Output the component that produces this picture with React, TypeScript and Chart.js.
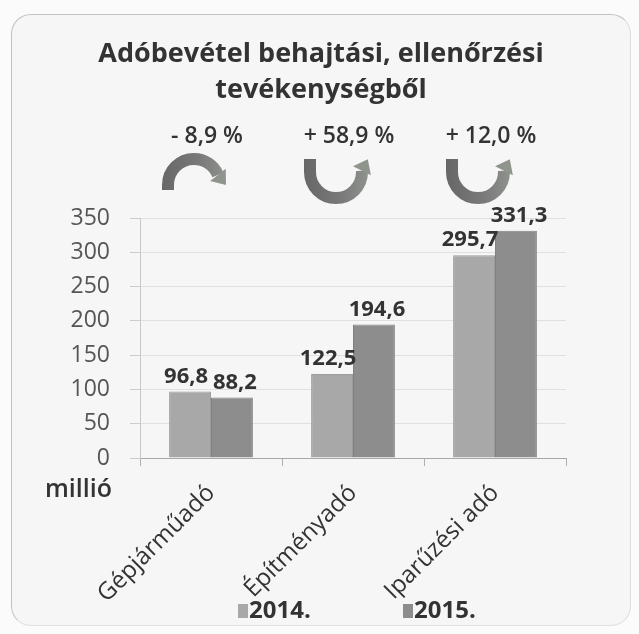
import React, { useEffect, useRef } from "react";
import { Chart, registerables } from "chart.js";

Chart.register(...registerables);

// ---- data ----
const categories = ["Gépjárműadó", "Építményadó", "Iparűzési adó"];
const seriesLabels = ["2014.", "2015."];
const values2014 = [96.8, 122.5, 295.7];
const values2015 = [88.2, 194.6, 331.3];
const yTicks = [0, 50, 100, 150, 200, 250, 300, 350];
const titleLines = ["Adóbevétel behajtási, ellenőrzési", "tevékenységből"];
const unitLabel = "millió";

// ---- style ----
const FONT = "'Open Sans', Lato, sans-serif";
const TEXT = "#333333";
const COLORS = ["#a8a8a8", "#8d8d8d"];

const fmt = (v: number) => v.toFixed(1).replace(".", ",");

function drawArrow(ctx: CanvasRenderingContext2D, cx: number, down: boolean) {
  const r = 26;
  const cy = down ? 185 : 172;
  const end = down ? -0.4 : -0.05;
  const grad = ctx.createLinearGradient(cx - r - 6, 0, cx + r + 12, 0);
  grad.addColorStop(0, "#676767");
  grad.addColorStop(0.55, "#7a7a7a");
  grad.addColorStop(1, "#939891");
  ctx.save();
  ctx.strokeStyle = grad;
  ctx.lineWidth = 12;
  ctx.lineCap = "butt";
  ctx.beginPath();
  if (down) {
    ctx.moveTo(cx - r, cy + 5);
    ctx.arc(cx, cy, r, Math.PI, end, false);
  } else {
    ctx.moveTo(cx - r, cy - 13);
    ctx.arc(cx, cy, r, Math.PI, end, true);
  }
  ctx.stroke();
  // head
  const ex = cx + r * Math.cos(end);
  const ey = cy + r * Math.sin(end);
  const dir = down ? [0.62, 0.78] : [0.45, -0.89];
  const len = 13;
  const half = 10;
  const px = -dir[1], py = dir[0];
  ctx.fillStyle = "#8f948d";
  ctx.beginPath();
  ctx.moveTo(ex + dir[0] * len, ey + dir[1] * len);
  ctx.lineTo(ex + px * half, ey + py * half);
  ctx.lineTo(ex - px * half, ey - py * half);
  ctx.closePath();
  ctx.fill();
  ctx.restore();
}

const overlay = {
  id: "overlay",
  afterDatasetsDraw(chart: any) {
    const { ctx, scales } = chart;
    const xs = scales.x;
    ctx.save();
    // title
    ctx.fillStyle = TEXT;
    ctx.textAlign = "center";
    ctx.textBaseline = "middle";
    ctx.font = `bold 27px ${FONT}`;
    titleLines.forEach((t, i) => ctx.fillText(t, 321, 54 + i * 36));
    // value labels
    const shift = [-4, 3];
    ctx.font = `bold 22px ${FONT}`;
    ctx.textBaseline = "alphabetic";
    chart.data.datasets.forEach((ds: any, di: number) => {
      const meta = chart.getDatasetMeta(di);
      meta.data.forEach((bar: any, i: number) => {
        ctx.fillText(fmt(ds.data[i]), bar.x + shift[di], bar.y - 9);
      });
    });
    // percent changes and arrows
    categories.forEach((_, i) => {
      const cx = xs.getPixelForValue(i);
      const pct = (values2015[i] / values2014[i] - 1) * 100;
      const txt = `${pct < 0 ? "-" : "+"} ${fmt(Math.abs(pct))} %`;
      ctx.font = `600 23px ${FONT}`;
      ctx.fillStyle = TEXT;
      ctx.textAlign = "center";
      ctx.textBaseline = "middle";
      ctx.fillText(txt, cx - 4, 136);
      drawArrow(ctx, cx - 17, pct < 0);
    });
    // unit label
    ctx.font = `600 25px ${FONT}`;
    ctx.textAlign = "left";
    ctx.textBaseline = "middle";
    ctx.fillStyle = TEXT;
    ctx.fillText(unitLabel, 45, 490);
    // legend
    const legendX = [238, 403];
    seriesLabels.forEach((lab, i) => {
      ctx.fillStyle = COLORS[i];
      ctx.fillRect(legendX[i], 604, 10, 14);
      ctx.fillStyle = TEXT;
      ctx.font = `bold 24px ${FONT}`;
      ctx.textAlign = "left";
      ctx.textBaseline = "middle";
      ctx.fillText(lab, legendX[i] + 11, 611);
    });
    ctx.restore();
  },
};

export default function App() {
  const ref = useRef<HTMLCanvasElement>(null);
  useEffect(() => {
    if (!ref.current) return;
    const chart = new Chart(ref.current, {
      type: "bar",
      data: {
        labels: categories,
        datasets: [
          {
            label: seriesLabels[0],
            data: values2014,
            backgroundColor: COLORS[0],
            borderColor: "#9c9c9c",
            borderWidth: 1,
            categoryPercentage: 0.59,
            barPercentage: 1,
          },
          {
            label: seriesLabels[1],
            data: values2015,
            backgroundColor: COLORS[1],
            borderColor: "#818181",
            borderWidth: 1,
            categoryPercentage: 0.59,
            barPercentage: 1,
          },
        ],
      },
      options: {
        animation: false,
        responsive: true,
        maintainAspectRatio: false,
        layout: { padding: { left: 0, right: 73, top: 218, bottom: 0 } },
        plugins: {
          legend: { display: false },
          tooltip: { enabled: false },
          title: { display: false },
        },
        scales: {
          x: {
            offset: true,
            grid: {
              display: true,
              drawOnChartArea: false,
              tickLength: 8,
              color: "#b0b0b0",
            },
            border: { color: "#a8a8a8" },
            ticks: {
              autoSkip: false,
              minRotation: 45,
              maxRotation: 45,
              padding: 13,
              color: TEXT,
              font: { family: FONT, size: 24, weight: "500" },
            },
            afterFit: (s: any) => {
              s.height = 176;
            },
          },
          y: {
            min: 0,
            max: 350,
            grid: { color: "#e0e0e0", tickLength: 10, tickColor: "#cccccc" },
            border: { color: "#c8c8c8" },
            ticks: {
              padding: 20,
              color: "#555555",
              font: { family: FONT, size: 23 },
            },
            afterBuildTicks: (s: any) => {
              s.ticks = yTicks.map((v) => ({ value: v }));
            },
            afterFit: (s: any) => {
              s.width = 140;
            },
          },
        },
      },
      plugins: [overlay],
    });
    return () => chart.destroy();
  }, []);

  return (
    <div style={{ position: "absolute", left: 0, top: 0, width: 639, height: 634, background: "#fbfbfb" }}>
      <div
        style={{
          position: "absolute",
          left: 11,
          top: 14,
          width: 618,
          height: 610,
          borderStyle: "solid",
          borderWidth: 1.5,
          borderColor: "#c2c2c2 #dddddd #e2e2e2 #c2c2c2",
          borderRadius: 20,
          background: "#f6f6f6",
        }}
      />
      <div style={{ position: "absolute", left: 0, top: 0, width: 639, height: 634 }}>
        <canvas ref={ref} />
      </div>
    </div>
  );
}
